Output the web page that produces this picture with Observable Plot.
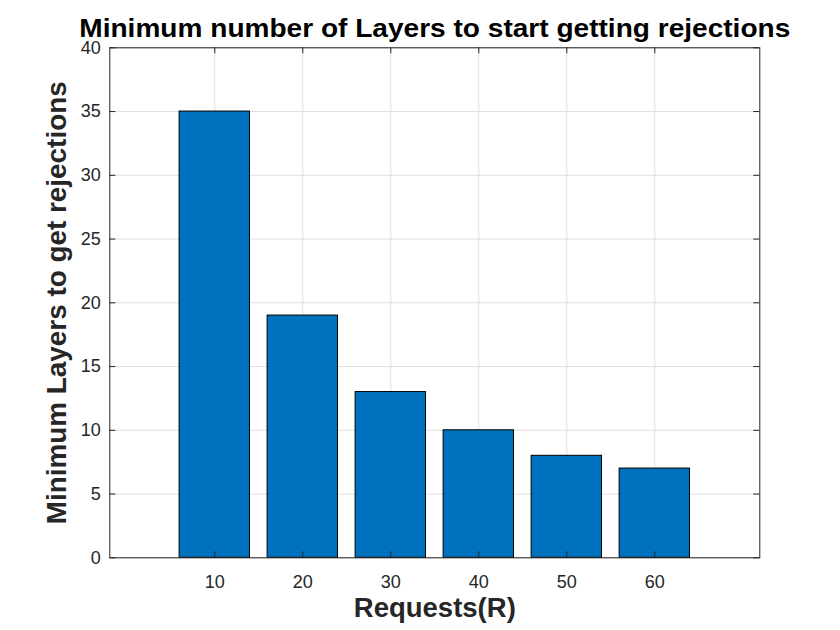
<!DOCTYPE html>
<html><head><meta charset="utf-8">
<script src="https://cdn.jsdelivr.net/npm/d3@7"></script>
<script src="https://cdn.jsdelivr.net/npm/@observablehq/plot@0.6"></script>
<style>body{margin:0;background:#fff;font-family:"Liberation Sans",Arial,sans-serif}</style>
</head><body><div id="chart"></div>
<script>
const requests = [10, 20, 30, 40, 50, 60];
const minLayers = [35, 19, 13, 10, 8, 7];
const xTicks = [10, 20, 30, 40, 50, 60];
const yTicks = [0, 5, 10, 15, 20, 25, 30, 35, 40];
const title = "Minimum number of Layers to start getting rejections";
const xLabel = "Requests(R)";
const yLabel = "Minimum Layers to get rejections";

const data = requests.map((r, i) => ({r, v: minLayers[i]}));
const W = 840, H = 630, mL = 109.3, mR = 80.7, mT = 47.3, mB = 72.7;
const ph = H - mT - mB, pw = W - mL - mR;
const tick = 6;

const chart = Plot.plot({
  width: W, height: H,
  marginLeft: mL, marginRight: mR, marginTop: mT, marginBottom: mB,
  style: {fontFamily: '"Liberation Sans", Arial, sans-serif', background: "#fff", overflow: "visible"},
  x: {domain: [-1.93, 71.93], axis: null},
  y: {domain: [0, 40], axis: null},
  marks: [
    Plot.gridX(xTicks, {stroke: "#dfdfdf", strokeOpacity: 1}),
    Plot.gridY(yTicks, {stroke: "#dfdfdf", strokeOpacity: 1}),
    Plot.rectY(data, {x1: d => d.r - 4, x2: d => d.r + 4, y: "v", fill: "#0072BD", stroke: "#000", strokeWidth: 1}),
    Plot.ruleX(xTicks, {x: d => d, insetTop: ph - tick, stroke: "#262626"}),
    Plot.ruleX(xTicks, {x: d => d, insetBottom: ph - tick, stroke: "#262626"}),
    Plot.ruleY(yTicks, {y: d => d, insetRight: pw - tick, stroke: "#262626"}),
    Plot.ruleY(yTicks, {y: d => d, insetLeft: pw - tick, stroke: "#262626"}),
    Plot.frame({stroke: "#262626", strokeWidth: 1}),
    Plot.text(xTicks, {x: d => d, text: d => String(d), frameAnchor: "bottom", dy: 24, fontSize: 18, fill: "#262626", lineAnchor: "middle"}),
    Plot.text(yTicks, {y: d => d, text: d => String(d), frameAnchor: "left", dx: -9, textAnchor: "end", fontSize: 18, fill: "#262626", lineAnchor: "middle"}),
    Plot.text([title], {text: d => d, frameAnchor: "top", dy: -19, fontSize: 26, fontWeight: "bold", fill: "#000", lineAnchor: "middle"}),
    Plot.text([xLabel], {text: d => d, frameAnchor: "bottom", dy: 51, fontSize: 27, fontWeight: "bold", fill: "#262626", lineAnchor: "middle"}),
    Plot.text([yLabel], {text: d => d, frameAnchor: "left", dx: -52, dy: 221.5, rotate: -90, textAnchor: "start", fontSize: 27, fontWeight: "bold", fill: "#262626", lineAnchor: "middle"})
  ]
});
document.getElementById("chart").appendChild(chart);
// condense long bold texts like the reference rendering
d3.select(chart).selectAll("text").each(function() {
  const t = this.textContent;
  const fit = {[title]: 711, [yLabel]: 443, [xLabel]: 162};
  if (fit[t]) { this.setAttribute("textLength", fit[t]); this.setAttribute("lengthAdjust", "spacingAndGlyphs"); }
});
</script></body></html>
